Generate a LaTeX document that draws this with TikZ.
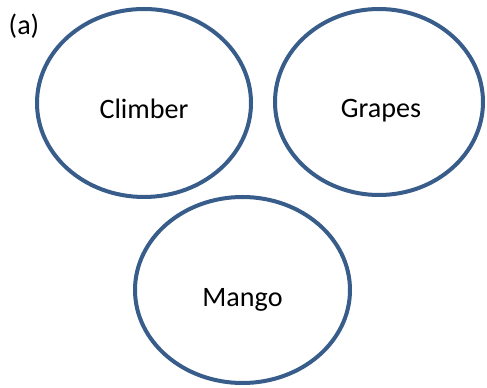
\documentclass[tikz,border=0pt]{standalone}
\usepackage{fontspec}
\setmainfont{Carlito}
\usetikzlibrary{shapes.geometric}
\definecolor{ringblue}{RGB}{56,93,138}

\begin{document}
\begin{tikzpicture}[auto,
    bubble/.style={ellipse, draw=ringblue, line width=2.85pt, inner sep=0pt},
    word/.style={anchor=base, font=\fontsize{20}{24}\selectfont}]

    \useasboundingbox (0,0) rectangle (12.175,9.7);

    \node (tag) at (0.6, 9.05) {\fontsize{20}{24}\selectfont (a)};

    \node[bubble, minimum width=5.35cm, minimum height=4.7cm] (c) at (3.6, 7.125) {};
    \node[bubble, minimum width=5.2cm, minimum height=4.65cm] (g) at (9.475, 7.15) {};
    \node[bubble, minimum width=5.375cm, minimum height=4.65cm] (m) at (6.0625, 2.45) {};

    \node[word] (ct) at ([yshift=-0.4cm]c.center) {Climber};
    \node[word] (gt) at ([yshift=-0.4cm, xshift=0.05cm]g.center) {Grapes};
    \node[word] (mt) at ([yshift=-0.42cm]m.center) {Mango};

\end{tikzpicture}
\end{document}
